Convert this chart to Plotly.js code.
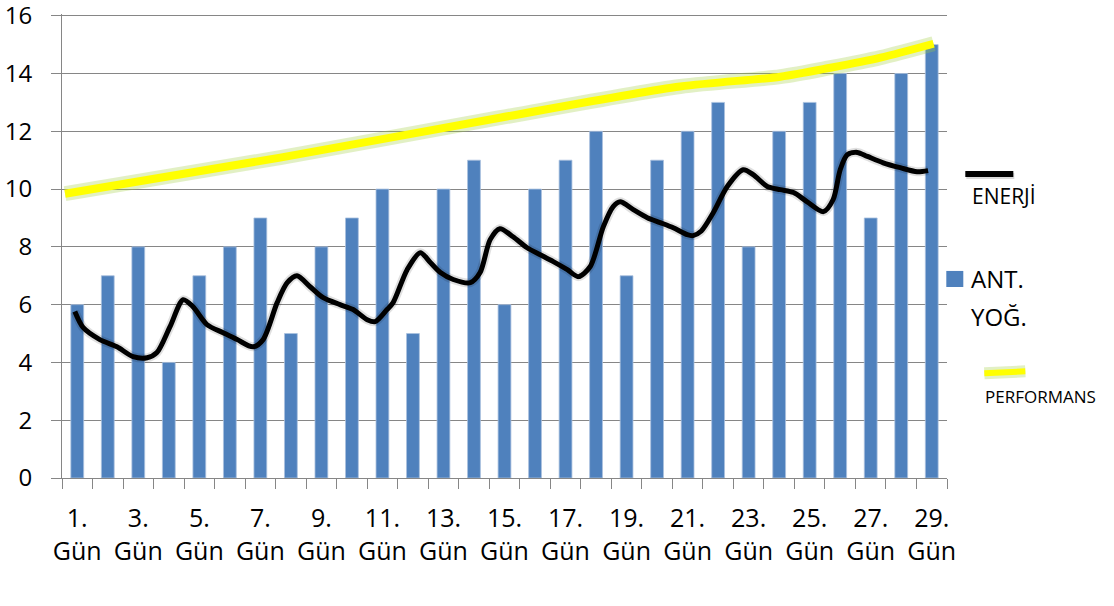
<!DOCTYPE html>
<html>
<head>
<meta charset="utf-8">
<script src="https://cdn.plot.ly/plotly-3.0.1.min.js"></script>
<style>html,body{margin:0;padding:0;background:#fff;}#chart{width:1114px;height:606px;}</style>
</head>
<body>
<div id="chart"></div>
<script>
// Bars: ANT. YOĞ. per day
const days = [1,2,3,4,5,6,7,8,9,10,11,12,13,14,15,16,17,18,19,20,21,22,23,24,25,26,27,28,29];
const antYog = [6,7,8,4,7,8,9,5,8,9,10,5,10,11,6,10,11,12,7,11,12,13,8,12,13,14,9,14,15];

// Tick labels
const tickDays = [1,3,5,7,9,11,13,15,17,19,21,23,25,27,29];
const tickLabels = ["1.<br>Gün","3.<br>Gün","5.<br>Gün","7.<br>Gün","9.<br>Gün","11.<br>Gün","13.<br>Gün","15.<br>Gün","17.<br>Gün","19.<br>Gün","21.<br>Gün","23.<br>Gün","25.<br>Gün","27.<br>Gün","29.<br>Gün"];
const yTicks = [0,2,4,6,8,10,12,14,16];
const boundaryTicks = [0.5,1.5,2.5,3.5,4.5,5.5,6.5,7.5,8.5,9.5,10.5,11.5,12.5,13.5,14.5,15.5,16.5,17.5,18.5,19.5,20.5,21.5,22.5,23.5,24.5,25.5,26.5,27.5,28.5,29.5];

// ENERJİ hand-drawn curve (day position, value)
const enerjiX = [0.92,1.19,1.74,2.30,2.83,3.29,3.61,4.04,4.47,4.79,5.25,5.78,6.24,6.76,7.09,7.55,7.88,8.20,8.63,9.06,9.61,10.04,10.50,10.76,11.15,11.35,11.81,12.24,12.57,12.90,13.32,13.88,14.20,14.53,14.85,15.28,15.74,16.17,16.60,17.06,17.42,17.81,18.24,18.56,18.79,19.22,19.68,20.10,20.53,20.99,21.18,21.45,21.84,22.30,22.82,23.15,23.61,24.04,24.47,24.92,25.45,25.77,26.00,26.23,26.56,26.89,27.41,27.97,28.52,28.88];
const enerjiY = [5.76,5.21,4.79,4.54,4.20,4.16,4.34,5.24,6.17,5.93,5.31,5.03,4.79,4.54,4.79,6.07,6.76,7.00,6.62,6.24,6.00,5.83,5.48,5.41,5.83,6.07,7.21,7.80,7.46,7.11,6.87,6.76,7.11,8.25,8.63,8.35,7.97,7.73,7.49,7.21,6.97,7.32,8.70,9.39,9.56,9.29,9.01,8.84,8.66,8.42,8.39,8.55,9.18,10.09,10.67,10.50,10.09,9.98,9.88,9.56,9.22,9.64,10.67,11.19,11.27,11.13,10.91,10.74,10.60,10.64];

// PERFORMANS hand-drawn line
const perfX = [0.6,7.65,14.85,20.76,24.04,25.68,27.32,29.06];
const perfY = [9.84,11.09,12.47,13.55,13.89,14.2,14.55,15.03];

const FONT = "Open Sans, Noto Sans, sans-serif";
const GRID = "#868686";

const traces = [
  {type:"bar", x:days, y:antYog, width:0.42, name:"ANT. YOĞ.",
   marker:{color:"#4F81BD", line:{color:"#a9c0de", width:0.8}}, hoverinfo:"skip"},
  {type:"scatter", mode:"lines", x:enerjiX, y:enerjiY, name:"ENERJİ",
   line:{color:"rgba(0,0,0,0.12)", width:9, shape:"spline", smoothing:0.8}, hoverinfo:"skip"},
  {type:"scatter", mode:"lines", x:enerjiX, y:enerjiY, name:"ENERJİ",
   line:{color:"#000000", width:5, shape:"spline", smoothing:0.8}, hoverinfo:"skip"},
  {type:"scatter", mode:"lines", x:perfX, y:perfY, xaxis:"x2", name:"PERFORMANS glow",
   line:{color:"rgba(160,205,60,0.3)", width:15, shape:"spline", smoothing:0.8}, hoverinfo:"skip"},
  {type:"scatter", mode:"lines", x:perfX, y:perfY, xaxis:"x2", name:"PERFORMANS",
   line:{color:"#FFFF00", width:8, shape:"spline", smoothing:0.8}, hoverinfo:"skip"}
];

const L = 62, PW = 884.7, B0 = 478.3, PH = 462.3;
const px = v => (v - L) / PW;
const py = v => (B0 - v) / PH;

const layout = {
  width:1114, height:606,
  margin:{l:62, r:167.3, t:14.3, b:127.7},
  paper_bgcolor:"#fff", plot_bgcolor:"#fff",
  showlegend:false,
  font:{family:FONT, color:"#000"},
  xaxis:{type:"linear", range:[0.5,29.5], tickmode:"array", tickvals:tickDays, ticktext:tickLabels,
         ticks:"", showgrid:false, zeroline:false, showline:true, linecolor:GRID, linewidth:1,
         tickfont:{size:25, family:FONT, color:"#000"}, ticklabelstandoff:18, ticklabeloverflow:"allow"},
  xaxis2:{type:"linear", range:[0.5,29.5], overlaying:"x", side:"bottom", tickmode:"array",
          tickvals:boundaryTicks, ticks:"outside", ticklen:10, tickcolor:GRID, tickwidth:1,
          showticklabels:false, showgrid:false, zeroline:false, showline:false},
  yaxis:{range:[0,16.06], tickmode:"array", tickvals:yTicks, showgrid:true, gridcolor:GRID, gridwidth:1,
         ticks:"outside", ticklen:10, tickcolor:GRID, tickwidth:1, showline:true, linecolor:GRID,
         zeroline:false, tickfont:{size:24, family:FONT, color:"#000"}, ticklabelstandoff:14,
         ticklabeloverflow:"allow"},
  shapes:[
    {type:"line", xref:"paper", yref:"paper", x0:px(966), x1:px(1014), y0:py(177.5), y1:py(177.5),
     line:{color:"rgba(0,0,0,0.15)", width:6}},
    {type:"line", xref:"paper", yref:"paper", x0:px(965), x1:px(1013), y0:py(175.5), y1:py(175.5),
     line:{color:"#000", width:6}},
    {type:"rect", xref:"paper", yref:"paper", x0:px(946), x1:px(963), y0:py(288), y1:py(272),
     fillcolor:"#4F81BD", line:{width:0}},
    {type:"line", xref:"paper", yref:"paper", x0:px(984), x1:px(1025), y0:py(374), y1:py(372),
     line:{color:"rgba(160,205,60,0.3)", width:12}},
    {type:"line", xref:"paper", yref:"paper", x0:px(984), x1:px(1025), y0:py(374), y1:py(372),
     line:{color:"#FFFF00", width:6}}
  ],
  annotations:[
    {xref:"paper", yref:"paper", x:px(970), y:py(197), xanchor:"left", yanchor:"middle", showarrow:false,
     text:"ENERJİ", font:{size:21, family:FONT, color:"#000"}},
    {xref:"paper", yref:"paper", x:px(969), y:py(280), xanchor:"left", yanchor:"middle", showarrow:false,
     text:"ANT.", font:{size:24, family:FONT, color:"#000"}},
    {xref:"paper", yref:"paper", x:px(969), y:py(317), xanchor:"left", yanchor:"middle", showarrow:false,
     text:"YOĞ.", font:{size:24, family:FONT, color:"#000"}},
    {xref:"paper", yref:"paper", x:px(983), y:py(397), xanchor:"left", yanchor:"middle", showarrow:false,
     text:"PERFORMANS", font:{size:17, family:FONT, color:"#000"}}
  ]
};

Plotly.newPlot("chart", traces, layout, {staticPlot:true, displayModeBar:false});
</script>
</body>
</html>
